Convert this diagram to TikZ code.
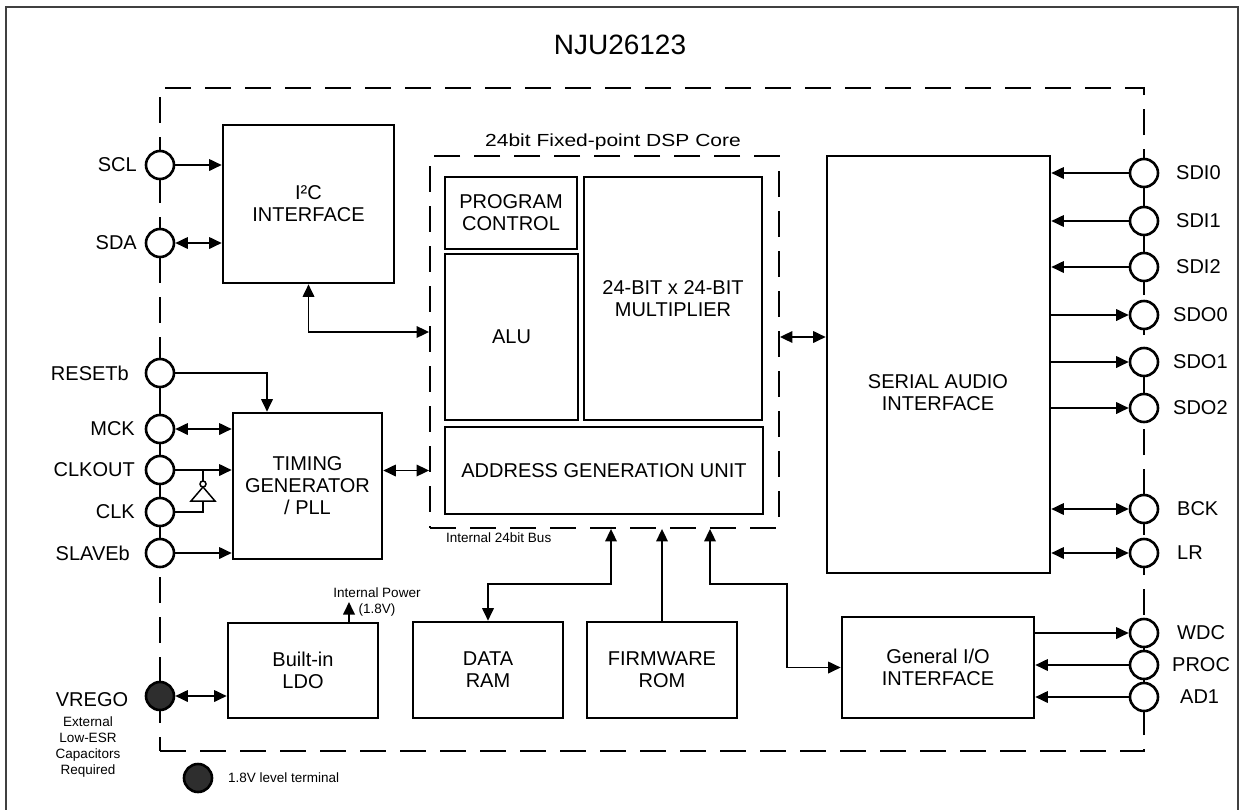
\documentclass[tikz,border=0pt]{standalone}
\usepackage{fontspec}
\setmainfont{Liberation Sans}
\usepackage{graphicx}
\usetikzlibrary{arrows.meta}
\newcommand{\lblfont}{\fontsize{20}{22}\selectfont}
\newcommand{\smlfont}{\fontsize{13.5}{16}\selectfont}
\begin{document}
\begin{tikzpicture}[x=1pt,y=-1pt,
  >={Triangle[length=12.5pt,width=11.5pt]},
  conn/.style={line width=1.8pt},
  blk/.style={draw, line width=2.6pt, inner sep=0pt, align=center, font=\lblfont},
  pin/.style={circle, draw, line width=2.6pt, fill=white, minimum size=28pt, inner sep=0pt},
  dpin/.style={pin, fill=black!82},
  chipline/.style={draw, line width=1.8pt, dash pattern=on 26pt off 14pt, inner sep=0pt},
  lblL/.style={anchor=east, font=\lblfont, inner sep=0pt},
  lblR/.style={anchor=west, font=\lblfont, inner sep=0pt},
  note/.style={font=\smlfont, inner sep=0pt, align=center}]

\useasboundingbox (0,0) rectangle (1239,809);
% outer frame
\draw[line width=1.5pt, black!75] (6,815) -- (6,7) -- (1238,7) -- (1238,815);

\node[font=\fontsize{28}{32}\selectfont] (title) at (620,45) {NJU26123};

% chip boundary and DSP core
\node[chipline, minimum width=984pt, minimum height=663pt] (chip) at (652,419.5) {};
\node[chipline, minimum width=349pt, minimum height=372pt] (dsp) at (604.5,342) {};
\node[inner sep=0pt] (dsptitle) at (613,142) {\scalebox{1.2}[1]{\fontsize{17.5}{20}\selectfont 24bit Fixed-point DSP Core}};
\node[note, anchor=west] (bus) at (446,538) {Internal 24bit Bus};

% blocks
\node[blk, minimum width=171pt, minimum height=158pt] (i2c) at (308.5,204) {I²C\\INTERFACE};
\node[blk, minimum width=149pt, minimum height=146pt] (timing) at (307.5,486) {TIMING\\GENERATOR\\/ PLL};
\node[blk, minimum width=150pt, minimum height=95pt] (ldo) at (303,670.5) {Built-in\\LDO};
\node[blk, minimum width=132pt, minimum height=72pt] (prog) at (511,213) {PROGRAM\\CONTROL};
\node[blk, minimum width=133pt, minimum height=166pt] (alu) at (511.5,337) {ALU};
\node[blk, minimum width=178pt, minimum height=243pt] (mult) at (673,298.5) {24-BIT x 24-BIT\\MULTIPLIER};
\node[blk, minimum width=318pt, minimum height=87pt] (agu) at (604,470.5) {ADDRESS GENERATION UNIT};
\node[blk, minimum width=223pt, minimum height=417pt] (sai) at (938.5,364.5) {};
\node[font=\lblfont, align=center, inner sep=0pt] (saitext) at (938,393) {SERIAL AUDIO\\INTERFACE};
\node[blk, minimum width=150pt, minimum height=96pt] (ram) at (488,670) {DATA\\RAM};
\node[blk, minimum width=150pt, minimum height=96pt] (rom) at (662,670) {FIRMWARE\\ROM};
\node[blk, minimum width=192pt, minimum height=101pt] (gio) at (938,667.5) {General I/O\\INTERFACE};

% left pins
\node[pin] (scl) at (160,165) {};
\node[pin] (sda) at (160,243) {};
\node[pin] (resetb) at (160,373) {};
\node[pin] (mck) at (160,429) {};
\node[pin] (clkout) at (160,470) {};
\node[pin] (clk) at (160,512) {};
\node[pin] (slaveb) at (160,553) {};
\node[dpin] (vrego) at (160,696) {};
\draw[conn] (resetb.south) -- (mck.north);
\draw[conn] (mck.south) -- (clkout.north);
\draw[conn] (clkout.south) -- (clk.north);
\draw[conn] (clk.south) -- (slaveb.north);

\node[lblL] (lscl) at (137,165) {SCL};
\node[lblL] (lsda) at (137,243) {SDA};
\node[lblL] (lresetb) at (129,373) {RESETb};
\node[lblL] (lmck) at (135,429) {MCK};
\node[lblL] (lclkout) at (135,470) {CLKOUT};
\node[lblL] (lclk) at (135,512) {CLK};
\node[lblL] (lslaveb) at (130,553) {SLAVEb};
\node[font=\lblfont, inner sep=0pt] (lvrego) at (92,700) {VREGO};
\node[note] (capnote) at (88,747) {External\\Low-ESR\\Capacitors\\Required};

% right pins
\node[pin] (sdi0) at (1144,173) {};
\node[pin] (sdi1) at (1144,221) {};
\node[pin] (sdi2) at (1144,267) {};
\node[pin] (sdo0) at (1144,315) {};
\node[pin] (sdo1) at (1144,362) {};
\node[pin] (sdo2) at (1144,408) {};
\node[pin] (bck) at (1144,509) {};
\node[pin] (lr) at (1144,553) {};
\node[pin] (wdc) at (1144,633) {};
\node[pin] (proc) at (1144,665) {};
\node[pin] (ad1) at (1144,697) {};
\draw[conn] (sdi0.south) -- (sdi1.north);
\draw[conn] (sdo1.south) -- (sdo2.north);

\node[lblR] (lsdi0) at (1176,173) {SDI0};
\node[lblR] (lsdi1) at (1176,221) {SDI1};
\node[lblR] (lsdi2) at (1176,267) {SDI2};
\node[lblR] (lsdo0) at (1173,315) {SDO0};
\node[lblR] (lsdo1) at (1173,362) {SDO1};
\node[lblR] (lsdo2) at (1173,408) {SDO2};
\node[lblR] (lbck) at (1177,509) {BCK};
\node[lblR] (llr) at (1177,553) {LR};
\node[lblR] (lwdc) at (1177,633) {WDC};
\node[lblR] (lproc) at (1172,665) {PROC};
\node[lblR] (lad1) at (1180,697) {AD1};

% left connectors
\draw[conn,->] (scl.east) -- (i2c.west |- scl);
\draw[conn,<->] (sda.east) -- (i2c.west |- sda);
\draw[conn,->] (resetb.east) -| ([xshift=-40.5pt]timing.north);
\draw[conn,<->] (mck.east) -- (timing.west |- mck);
\draw[conn,->] (clkout.east) -- (timing.west |- clkout);
\coordinate (invin) at (203,501);
\coordinate (invout) at (203,481);
\draw[line width=1.5pt] (191,501) -- (215,501) -- (203,487) -- cycle;
\draw[line width=1.5pt] (203,484) circle (3pt);
\draw[conn] (invout) -- (invout |- clkout);
\draw[conn] (invin) |- (clk.east);
\draw[conn,->] (slaveb.east) -- (timing.west |- slaveb);
\draw[conn,<->] (vrego.east) -- (ldo.west |- vrego);

% internal power
\coordinate (pwr) at (349,602);
\draw[conn,->] (pwr |- ldo.north) -- (pwr);
\node[note] (pwrtext) at (377,593) {Internal Power};
\node[note] (pwrv) at (377,610) {(1.8V)};

% core connections
\draw[conn,<->] (i2c.south) |- ([yshift=10pt]dsp.west);
\draw[conn,<->] (timing.east |- agu) -- (dsp.west |- agu);
\draw[conn,<->] (dsp.east |- alu) -- (sai.west |- alu);

% bus
\coordinate (ramtap) at (611,584);
\coordinate (giotap) at (710,584);
\coordinate (giobend) at (787,584);
\draw[conn,<->] (ramtap |- dsp.south) -- (ramtap) -| (ram.north);
\draw[conn,->] (rom.north) -- (rom.north |- dsp.south);
\draw[conn,<->] (giotap |- dsp.south) -- (giotap) -- (giobend) |- (gio.west);

% right connectors
\foreach \p in {sdi0,sdi1,sdi2} \draw[conn,->] (\p.west) -- (sai.east |- \p);
\foreach \p in {sdo0,sdo1,sdo2} \draw[conn,->] (sai.east |- \p) -- (\p.west);
\foreach \p in {bck,lr} \draw[conn,<->] (sai.east |- \p) -- (\p.west);
\draw[conn,->] (gio.east |- wdc) -- (wdc.west);
\draw[conn,->] (proc.west) -- (gio.east |- proc);
\draw[conn,->] (ad1.west) -- (gio.east |- ad1);

% legend
\node[dpin] (legend) at (198,778) {};
\node[note, anchor=west] (legendtext) at (228,778) {1.8V level terminal};
\end{tikzpicture}
\end{document}
